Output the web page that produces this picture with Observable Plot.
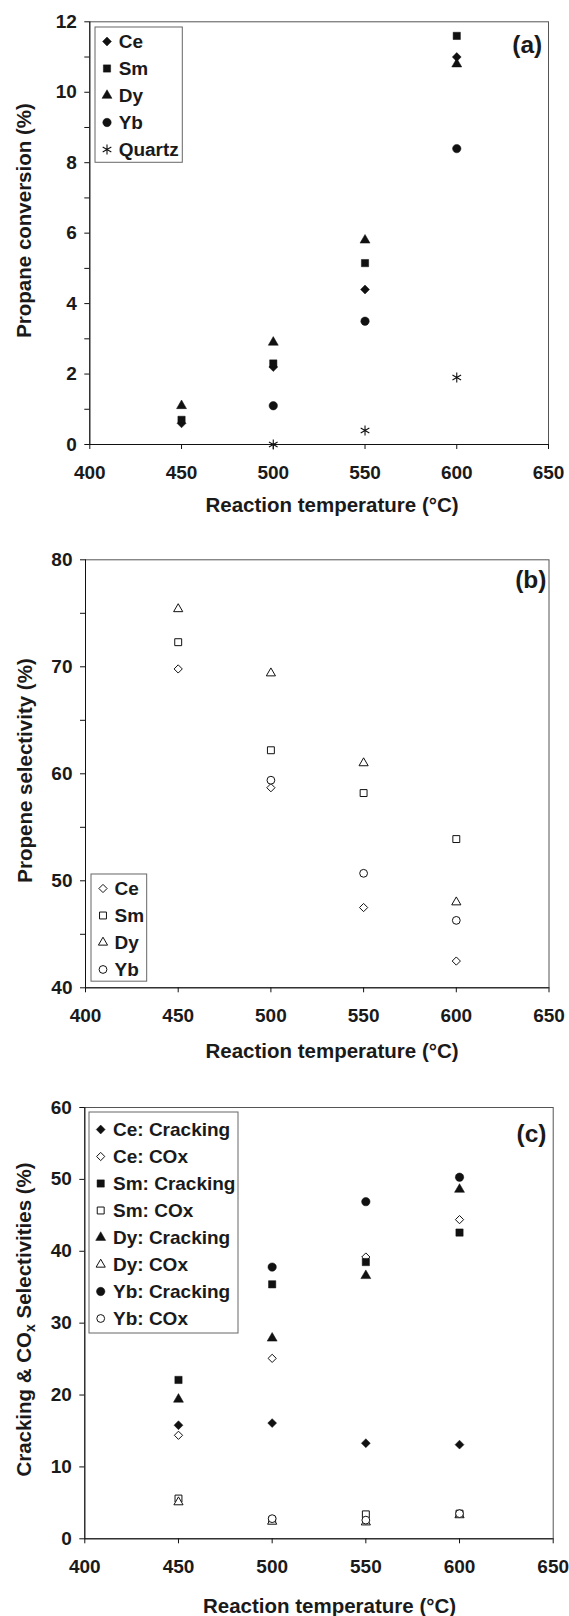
<!DOCTYPE html>
<html><head><meta charset="utf-8">
<script src="https://cdn.jsdelivr.net/npm/d3@7"></script>
<script src="https://cdn.jsdelivr.net/npm/@observablehq/plot@0.6"></script>
<style>
body{margin:0;background:#fff;}
#root{position:relative;width:569px;height:1616px;overflow:hidden;background:#fff;}
#root > svg{position:absolute;left:0;}
</style></head><body><div id="root"></div>
<script>
// ---------- data ----------
const temps = [450, 500, 550, 600];
const xTicks = [400, 450, 500, 550, 600, 650];
const xTitle = "Reaction temperature (°C)";

// (a) propane conversion (%)
const convCe = [0.6, 2.2, 4.4, 11.0];
const convSm = [0.7, 2.3, 5.15, 11.6];
const convDy = [1.1, 2.9, 5.8, 10.8];
const convYb = [null, 1.1, 3.5, 8.4];
const convQuartz = [null, 0.0, 0.4, 1.9];
const aYTicks = [0, 2, 4, 6, 8, 10, 12];
const aYMinor = [1, 3, 5, 7, 9, 11];

// (b) propene selectivity (%)
const selCe = [69.8, 58.7, 47.5, 42.5];
const selSm = [72.3, 62.2, 58.2, 53.9];
const selDy = [75.4, 69.4, 61.0, 48.0];
const selYb = [null, 59.4, 50.7, 46.3];
const bYTicks = [40, 50, 60, 70, 80];
const bYMinor = [45, 55, 65, 75];

// (c) cracking & COx selectivities (%)
const crackCe = [15.8, 16.1, 13.3, 13.1];
const coxCe = [14.4, 25.1, 39.2, 44.4];
const crackSm = [22.1, 35.4, 38.5, 42.6];
const coxSm = [5.6, 2.6, 3.4, 3.5];
const crackDy = [19.4, 27.9, 36.6, 48.6];
const coxDy = [5.1, 2.4, 2.3, 3.3];
const crackYb = [null, 37.8, 46.9, 50.3];
const coxYb = [null, 2.8, 2.6, 3.5];
const cYTicks = [0, 10, 20, 30, 40, 50, 60];

// ---------- helpers ----------
const FONT = '"Liberation Sans", Arial, Helvetica, sans-serif';
const INK = "#111";
const SYM = {
  diamond: {symbol: "diamond2", r: 4.0},
  square: {symbol: "square", r: 4.1},
  triangle: {symbol: "triangle", r: 3.7},
  circle: {symbol: "circle", r: 4.2},
  asterisk: {symbol: "asterisk", r: 4.7}
};
function pts(vals) {
  return temps.map((t, i) => ({t, v: vals[i]})).filter(d => d.v != null);
}
function style(shape, filled) {
  const s = SYM[shape];
  if (shape === "asterisk") return {symbol: s.symbol, r: s.r, fill: "none", stroke: INK, strokeWidth: 1.1};
  return filled
    ? {symbol: s.symbol, r: s.r, fill: INK, stroke: INK, strokeWidth: 0.5}
    : {symbol: s.symbol, r: shape === "square" ? 3.9 : s.r - 0.3, fill: "white", stroke: INK, strokeWidth: 1};
}

const root = document.getElementById("root");

function panel(p) {
  const W = 569;
  const fx0 = p.mL, fx1 = W - p.mR, fy1 = p.height - p.mB, fy0 = p.mT;
  const cx = (fx0 + fx1) / 2, cy = (fy0 + fy1) / 2;
  const marks = [
    Plot.frame({stroke: "#555"}),
    Plot.ruleX([400], {stroke: INK}),
    Plot.ruleY([p.yDomain[0]], {stroke: INK}),
    Plot.axisX(xTicks, {tickSize: 5, tickPadding: 16, label: null, stroke: INK, fill: "#1a1a1a"}),
    Plot.axisY(p.yTicks, {tickSize: 5, tickPadding: 8, label: null, stroke: INK, fill: "#1a1a1a"}),
  ];
  if (p.yMinor) marks.push(Plot.axisY(p.yMinor, {tickSize: 5, tickFormat: () => "", label: null, stroke: INK}));
  for (const s of p.series) {
    marks.push(Plot.dot(pts(s.values), {x: "t", y: "v", ...style(s.shape, s.filled)}));
  }
  marks.push(Plot.text([xTitle], {text: d => d, frameAnchor: "bottom", textAnchor: "middle", lineAnchor: "middle",
    dx: p.xTitleX - cx, dy: p.xTitleY - fy1, fontSize: 20.5, fontWeight: "bold", fill: "#1a1a1a"}));
  marks.push(Plot.text([p.yTitle], {text: d => d, frameAnchor: "left", textAnchor: "middle", lineAnchor: "middle", rotate: -90,
    dx: p.yTitleX - fx0, dy: p.yTitleY - cy, fontSize: 20.5, fontWeight: "bold", fill: "#1a1a1a"}));
  marks.push(Plot.text([p.tag], {text: d => d, frameAnchor: "top-right", textAnchor: "end", lineAnchor: "middle",
    dx: p.tagDx, dy: p.tagDy, fontSize: 24.5, fontWeight: "bold", fill: "#1a1a1a"}));
  const svg = Plot.plot({
    width: W, height: p.height,
    marginLeft: p.mL, marginRight: p.mR, marginTop: p.mT, marginBottom: p.mB,
    x: {domain: [400, 650]},
    y: {domain: p.yDomain},
    style: {fontFamily: FONT, fontSize: "19px", fontWeight: "bold", background: "transparent", color: INK},
    marks
  });
  svg.style.top = p.top + "px";
  root.appendChild(svg);
  if (p.after) p.after(svg);

  // legend
  const L = p.legend;
  const names = p.series.map(s => s.name);
  const lmarks = [Plot.frame({stroke: "#666", fill: "white"})];
  p.series.forEach(s => {
    lmarks.push(Plot.dot([s.name], {y: d => d, frameAnchor: "left", dx: L.markDx, ...style(s.shape, s.filled)}));
  });
  lmarks.push(Plot.text(names, {y: d => d, text: d => d, frameAnchor: "left", textAnchor: "start", lineAnchor: "middle",
    dx: L.textDx, fontSize: 19, fontWeight: "bold", fill: "#1a1a1a"}));
  const lsvg = Plot.plot({
    width: L.w, height: L.h, margin: 0.5,
    y: {type: "point", domain: names, range: [L.r0, L.r1], padding: 0, axis: null},
    style: {fontFamily: FONT, fontSize: "19px", fontWeight: "bold", background: "transparent", color: INK, overflow: "visible"},
    marks: lmarks
  });
  lsvg.style.top = L.top + "px";
  lsvg.style.left = L.left + "px";
  root.appendChild(lsvg);
}

panel({
  top: 0, height: 540, mL: 89.3, mR: 21, mT: 21.3, mB: 96,
  yDomain: [0, 12], yTicks: aYTicks, yMinor: aYMinor,
  series: [
    {name: "Ce", values: convCe, shape: "diamond", filled: true},
    {name: "Sm", values: convSm, shape: "square", filled: true},
    {name: "Dy", values: convDy, shape: "triangle", filled: true},
    {name: "Yb", values: convYb, shape: "circle", filled: true},
    {name: "Quartz", values: convQuartz, shape: "asterisk", filled: true}
  ],
  xTitleX: 331.5, xTitleY: 504.6, yTitle: "Propane conversion (%)", yTitleX: 23.6, yTitleY: 220,
  tag: "(a)", tagDx: -6.3, tagDy: 23.7,
  legend: {left: 94, top: 26, w: 88.3, h: 136.3, r0: 14.7, r1: 124, markDx: 12, textDx: 23.7}
});

panel({
  top: 540, height: 530, mL: 85, mR: 20.5, mT: 19.3, mB: 82.7,
  yDomain: [40, 80], yTicks: bYTicks, yMinor: bYMinor,
  series: [
    {name: "Ce", values: selCe, shape: "diamond", filled: false},
    {name: "Sm", values: selSm, shape: "square", filled: false},
    {name: "Dy", values: selDy, shape: "triangle", filled: false},
    {name: "Yb", values: selYb, shape: "circle", filled: false}
  ],
  xTitleX: 331.5, xTitleY: 1051 - 540, yTitle: "Propene selectivity (%)", yTitleX: 24.7, yTitleY: 770 - 540,
  tag: "(b)", tagDx: -2.5, tagDy: 20.3,
  legend: {left: 90, top: 872.5, w: 56.7, h: 108.2, r0: 14.3, r1: 96.5, markDx: 12, textDx: 23.5}
});

const yTitleC = "Cracking & COx Selectivities (%)";
panel({
  top: 1070, height: 546, mL: 84.3, mR: 16.3, mT: 37, mB: 77.7,
  yDomain: [0, 60], yTicks: cYTicks, yMinor: null,
  series: [
    {name: "Ce: Cracking", values: crackCe, shape: "diamond", filled: true},
    {name: "Ce: COx", values: coxCe, shape: "diamond", filled: false},
    {name: "Sm: Cracking", values: crackSm, shape: "square", filled: true},
    {name: "Sm: COx", values: coxSm, shape: "square", filled: false},
    {name: "Dy: Cracking", values: crackDy, shape: "triangle", filled: true},
    {name: "Dy: COx", values: coxDy, shape: "triangle", filled: false},
    {name: "Yb: Cracking", values: crackYb, shape: "circle", filled: true},
    {name: "Yb: COx", values: coxYb, shape: "circle", filled: false}
  ],
  xTitleX: 329, xTitleY: 1606 - 1070, yTitle: yTitleC, yTitleX: 23.6, yTitleY: 1319 - 1070,
  tag: "(c)", tagDx: -6.7, tagDy: 26.6,
  legend: {left: 88.3, top: 1111, w: 150, h: 222, r0: 16.3, r1: 208.3, markDx: 11.7, textDx: 24},
  after(svg) {
    d3.select(svg).selectAll("text").filter(function() { return this.textContent === yTitleC; })
      .each(function() {
        const t = d3.select(this);
        t.text(null);
        t.append("tspan").text("Cracking & CO");
        t.append("tspan").attr("dy", 4).attr("font-size", 14).text("x");
        t.append("tspan").attr("dy", -4).text(" Selectivities (%)");
      });
  }
});
</script></body></html>
